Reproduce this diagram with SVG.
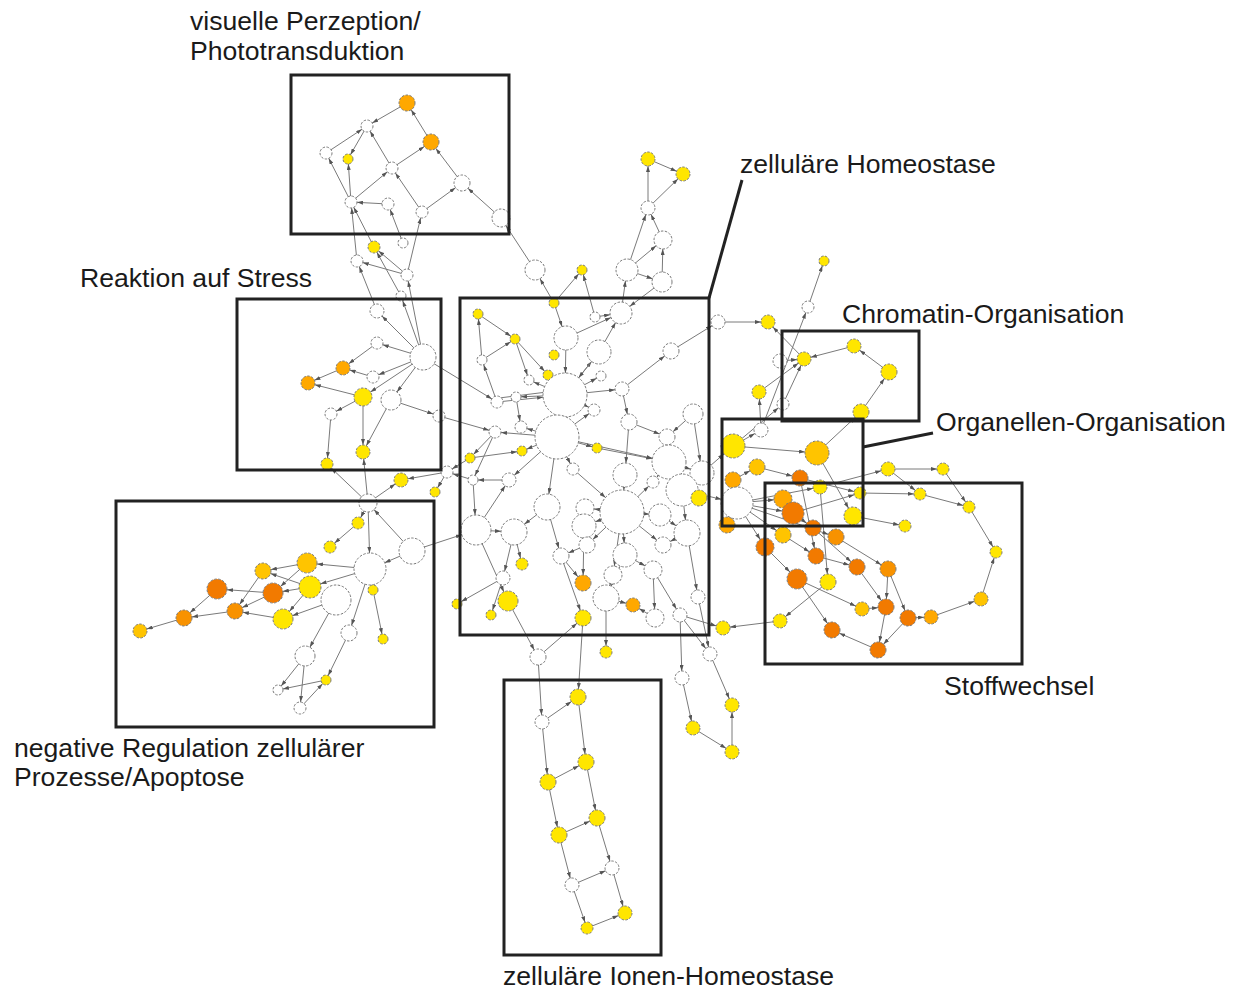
<svg xmlns="http://www.w3.org/2000/svg" width="1238" height="990" viewBox="0 0 1238 990">
<defs>
<style>
.e line{stroke:#7a7a7a;stroke-width:1;fill:none}
circle{stroke:#7a7a7a;stroke-width:1;stroke-dasharray:2.5 1.5}
.w{fill:#fff}.y{fill:#FFE600}.lo{fill:#FFC400}.o{fill:#FFA800}.o2{fill:#F89200}.do{fill:#F27A00}
.box{fill:none;stroke:#222;stroke-width:3}
.lab{font-family:"Liberation Sans",Arial,sans-serif;font-size:26.6px;fill:#1a1a1a}
marker path{fill:#555}
</style>
<marker id="a5" markerUnits="userSpaceOnUse" markerWidth="6" markerHeight="4" refX="11" refY="2" orient="auto"><path d="M0,0L6,2L0,4z"/></marker>
<marker id="a6" markerUnits="userSpaceOnUse" markerWidth="6" markerHeight="4" refX="12" refY="2" orient="auto"><path d="M0,0L6,2L0,4z"/></marker>
<marker id="a7" markerUnits="userSpaceOnUse" markerWidth="6" markerHeight="4" refX="13" refY="2" orient="auto"><path d="M0,0L6,2L0,4z"/></marker>
<marker id="a8" markerUnits="userSpaceOnUse" markerWidth="6" markerHeight="4" refX="14" refY="2" orient="auto"><path d="M0,0L6,2L0,4z"/></marker>
<marker id="a9" markerUnits="userSpaceOnUse" markerWidth="6" markerHeight="4" refX="15" refY="2" orient="auto"><path d="M0,0L6,2L0,4z"/></marker>
<marker id="a10" markerUnits="userSpaceOnUse" markerWidth="6" markerHeight="4" refX="16" refY="2" orient="auto"><path d="M0,0L6,2L0,4z"/></marker>
<marker id="a11" markerUnits="userSpaceOnUse" markerWidth="6" markerHeight="4" refX="17" refY="2" orient="auto"><path d="M0,0L6,2L0,4z"/></marker>
<marker id="a12" markerUnits="userSpaceOnUse" markerWidth="6" markerHeight="4" refX="18" refY="2" orient="auto"><path d="M0,0L6,2L0,4z"/></marker>
<marker id="a13" markerUnits="userSpaceOnUse" markerWidth="6" markerHeight="4" refX="19" refY="2" orient="auto"><path d="M0,0L6,2L0,4z"/></marker>
<marker id="a15" markerUnits="userSpaceOnUse" markerWidth="6" markerHeight="4" refX="21" refY="2" orient="auto"><path d="M0,0L6,2L0,4z"/></marker>
<marker id="a16" markerUnits="userSpaceOnUse" markerWidth="6" markerHeight="4" refX="22" refY="2" orient="auto"><path d="M0,0L6,2L0,4z"/></marker>
<marker id="a17" markerUnits="userSpaceOnUse" markerWidth="6" markerHeight="4" refX="23" refY="2" orient="auto"><path d="M0,0L6,2L0,4z"/></marker>
<marker id="a22" markerUnits="userSpaceOnUse" markerWidth="6" markerHeight="4" refX="28" refY="2" orient="auto"><path d="M0,0L6,2L0,4z"/></marker>
</defs>
<rect width="1238" height="990" fill="#fff"/>
<g id="connectors" class="e">
<line x1="407" y1="103" x2="367" y2="126" marker-end="url(#a6)"/>
<line x1="431" y1="142" x2="407" y2="103" marker-end="url(#a8)"/>
<line x1="326" y1="153" x2="367" y2="126" marker-end="url(#a6)"/>
<line x1="367" y1="126" x2="348" y2="159" marker-end="url(#a5)"/>
<line x1="392" y1="168" x2="367" y2="126" marker-end="url(#a6)"/>
<line x1="392" y1="168" x2="431" y2="142" marker-end="url(#a8)"/>
<line x1="351" y1="202" x2="326" y2="153" marker-end="url(#a6)"/>
<line x1="351" y1="202" x2="348" y2="159" marker-end="url(#a5)"/>
<line x1="351" y1="202" x2="392" y2="168" marker-end="url(#a6)"/>
<line x1="388" y1="204" x2="351" y2="202" marker-end="url(#a6)"/>
<line x1="422" y1="212" x2="392" y2="168" marker-end="url(#a6)"/>
<line x1="422" y1="212" x2="462" y2="183" marker-end="url(#a8)"/>
<line x1="462" y1="183" x2="431" y2="142" marker-end="url(#a8)"/>
<line x1="501" y1="218" x2="462" y2="183" marker-end="url(#a8)"/>
<line x1="535" y1="270" x2="501" y2="218" marker-end="url(#a9)"/>
<line x1="374" y1="247" x2="351" y2="202" marker-end="url(#a6)"/>
<line x1="403" y1="243" x2="388" y2="204" marker-end="url(#a6)"/>
<line x1="407" y1="275" x2="422" y2="212" marker-end="url(#a6)"/>
<line x1="407" y1="275" x2="374" y2="247" marker-end="url(#a6)"/>
<line x1="407" y1="275" x2="357" y2="261" marker-end="url(#a6)"/>
<line x1="357" y1="261" x2="351" y2="202" marker-end="url(#a6)"/>
<line x1="401" y1="296" x2="374" y2="247" marker-end="url(#a6)"/>
<line x1="377" y1="311" x2="357" y2="261" marker-end="url(#a6)"/>
<line x1="423" y1="357" x2="407" y2="275" marker-end="url(#a6)"/>
<line x1="423" y1="357" x2="401" y2="296" marker-end="url(#a5)"/>
<line x1="423" y1="357" x2="377" y2="311" marker-end="url(#a7)"/>
<line x1="423" y1="357" x2="377" y2="343" marker-end="url(#a6)"/>
<line x1="377" y1="343" x2="343" y2="368" marker-end="url(#a7)"/>
<line x1="343" y1="368" x2="308" y2="383" marker-end="url(#a7)"/>
<line x1="423" y1="357" x2="373" y2="377" marker-end="url(#a6)"/>
<line x1="373" y1="377" x2="343" y2="368" marker-end="url(#a7)"/>
<line x1="363" y1="397" x2="308" y2="383" marker-end="url(#a7)"/>
<line x1="423" y1="357" x2="363" y2="397" marker-end="url(#a9)"/>
<line x1="363" y1="397" x2="331" y2="414" marker-end="url(#a6)"/>
<line x1="391" y1="400" x2="363" y2="452" marker-end="url(#a7)"/>
<line x1="363" y1="397" x2="363" y2="452" marker-end="url(#a7)"/>
<line x1="331" y1="414" x2="327" y2="464" marker-end="url(#a6)"/>
<line x1="391" y1="400" x2="439" y2="416" marker-end="url(#a6)"/>
<line x1="423" y1="357" x2="391" y2="400" marker-end="url(#a10)"/>
<line x1="423" y1="357" x2="497" y2="402" marker-end="url(#a6)"/>
<line x1="368" y1="503" x2="327" y2="464" marker-end="url(#a6)"/>
<line x1="368" y1="503" x2="363" y2="452" marker-end="url(#a7)"/>
<line x1="368" y1="503" x2="401" y2="480" marker-end="url(#a7)"/>
<line x1="447" y1="472" x2="401" y2="480" marker-end="url(#a7)"/>
<line x1="447" y1="472" x2="435" y2="492" marker-end="url(#a5)"/>
<line x1="439" y1="416" x2="495" y2="432" marker-end="url(#a6)"/>
<line x1="470" y1="458" x2="447" y2="472" marker-end="url(#a6)"/>
<line x1="473" y1="480" x2="447" y2="472" marker-end="url(#a6)"/>
<line x1="412" y1="551" x2="368" y2="503" marker-end="url(#a9)"/>
<line x1="412" y1="551" x2="476" y2="530" marker-end="url(#a15)"/>
<line x1="368" y1="503" x2="358" y2="523" marker-end="url(#a6)"/>
<line x1="358" y1="523" x2="330" y2="547" marker-end="url(#a6)"/>
<line x1="368" y1="503" x2="370" y2="569" marker-end="url(#a16)"/>
<line x1="412" y1="551" x2="370" y2="569" marker-end="url(#a16)"/>
<line x1="370" y1="569" x2="307" y2="563" marker-end="url(#a10)"/>
<line x1="307" y1="563" x2="263" y2="571" marker-end="url(#a8)"/>
<line x1="370" y1="569" x2="310" y2="587" marker-end="url(#a11)"/>
<line x1="307" y1="563" x2="273" y2="593" marker-end="url(#a10)"/>
<line x1="310" y1="587" x2="273" y2="593" marker-end="url(#a10)"/>
<line x1="273" y1="593" x2="217" y2="589" marker-end="url(#a10)"/>
<line x1="263" y1="571" x2="235" y2="611" marker-end="url(#a8)"/>
<line x1="273" y1="593" x2="235" y2="611" marker-end="url(#a8)"/>
<line x1="283" y1="619" x2="235" y2="611" marker-end="url(#a8)"/>
<line x1="235" y1="611" x2="184" y2="618" marker-end="url(#a8)"/>
<line x1="217" y1="589" x2="184" y2="618" marker-end="url(#a8)"/>
<line x1="184" y1="618" x2="140" y2="631" marker-end="url(#a7)"/>
<line x1="336" y1="600" x2="283" y2="619" marker-end="url(#a10)"/>
<line x1="310" y1="587" x2="283" y2="619" marker-end="url(#a10)"/>
<line x1="310" y1="587" x2="263" y2="571" marker-end="url(#a8)"/>
<line x1="370" y1="569" x2="349" y2="633" marker-end="url(#a8)"/>
<line x1="349" y1="633" x2="326" y2="680" marker-end="url(#a5)"/>
<line x1="336" y1="600" x2="305" y2="656" marker-end="url(#a10)"/>
<line x1="305" y1="656" x2="278" y2="690" marker-end="url(#a5)"/>
<line x1="305" y1="656" x2="300" y2="708" marker-end="url(#a6)"/>
<line x1="326" y1="680" x2="278" y2="690" marker-end="url(#a5)"/>
<line x1="300" y1="708" x2="326" y2="680" marker-end="url(#a5)"/>
<line x1="373" y1="590" x2="383" y2="639" marker-end="url(#a5)"/>
<line x1="554" y1="303" x2="535" y2="270" marker-end="url(#a10)"/>
<line x1="554" y1="303" x2="582" y2="270" marker-end="url(#a5)"/>
<line x1="595" y1="317" x2="582" y2="270" marker-end="url(#a5)"/>
<line x1="554" y1="303" x2="566" y2="338" marker-end="url(#a12)"/>
<line x1="566" y1="338" x2="621" y2="313" marker-end="url(#a11)"/>
<line x1="599" y1="352" x2="621" y2="313" marker-end="url(#a11)"/>
<line x1="595" y1="317" x2="621" y2="313" marker-end="url(#a11)"/>
<line x1="621" y1="313" x2="627" y2="270" marker-end="url(#a11)"/>
<line x1="627" y1="270" x2="648" y2="208" marker-end="url(#a7)"/>
<line x1="663" y1="240" x2="648" y2="208" marker-end="url(#a7)"/>
<line x1="627" y1="270" x2="663" y2="240" marker-end="url(#a9)"/>
<line x1="627" y1="270" x2="662" y2="282" marker-end="url(#a10)"/>
<line x1="662" y1="282" x2="663" y2="240" marker-end="url(#a9)"/>
<line x1="662" y1="282" x2="621" y2="313" marker-end="url(#a11)"/>
<line x1="648" y1="208" x2="648" y2="159" marker-end="url(#a7)"/>
<line x1="648" y1="159" x2="683" y2="174" marker-end="url(#a7)"/>
<line x1="648" y1="208" x2="683" y2="174" marker-end="url(#a7)"/>
<line x1="478" y1="314" x2="515" y2="339" marker-end="url(#a5)"/>
<line x1="482" y1="360" x2="478" y2="314" marker-end="url(#a5)"/>
<line x1="482" y1="360" x2="515" y2="339" marker-end="url(#a5)"/>
<line x1="515" y1="339" x2="529" y2="380" marker-end="url(#a5)"/>
<line x1="515" y1="339" x2="548" y2="375" marker-end="url(#a5)"/>
<line x1="565" y1="395" x2="516" y2="397" marker-end="url(#a5)"/>
<line x1="565" y1="395" x2="529" y2="380" marker-end="url(#a5)"/>
<line x1="565" y1="395" x2="599" y2="352" marker-end="url(#a12)"/>
<line x1="565" y1="395" x2="601" y2="376" marker-end="url(#a5)"/>
<line x1="565" y1="395" x2="622" y2="389" marker-end="url(#a7)"/>
<line x1="565" y1="395" x2="594" y2="410" marker-end="url(#a6)"/>
<line x1="497" y1="402" x2="482" y2="360" marker-end="url(#a5)"/>
<line x1="497" y1="402" x2="565" y2="395" marker-end="url(#a22)"/>
<line x1="499" y1="398" x2="563" y2="390"/>
<line x1="622" y1="389" x2="671" y2="351" marker-end="url(#a8)"/>
<line x1="671" y1="351" x2="718" y2="322" marker-end="url(#a7)"/>
<line x1="622" y1="389" x2="629" y2="422" marker-end="url(#a8)"/>
<line x1="629" y1="422" x2="667" y2="437" marker-end="url(#a8)"/>
<line x1="693" y1="414" x2="667" y2="437" marker-end="url(#a8)"/>
<line x1="629" y1="422" x2="625" y2="475" marker-end="url(#a12)"/>
<line x1="597" y1="448" x2="669" y2="462" marker-end="url(#a17)"/>
<line x1="557" y1="437" x2="669" y2="462" marker-end="url(#a17)"/>
<line x1="557" y1="437" x2="521" y2="427" marker-end="url(#a6)"/>
<line x1="557" y1="437" x2="495" y2="432" marker-end="url(#a6)"/>
<line x1="557" y1="437" x2="522" y2="451" marker-end="url(#a5)"/>
<line x1="557" y1="437" x2="597" y2="448" marker-end="url(#a5)"/>
<line x1="557" y1="437" x2="573" y2="469" marker-end="url(#a6)"/>
<line x1="557" y1="437" x2="547" y2="507" marker-end="url(#a13)"/>
<line x1="557" y1="437" x2="509" y2="480" marker-end="url(#a7)"/>
<line x1="557" y1="437" x2="594" y2="410" marker-end="url(#a6)"/>
<line x1="516" y1="397" x2="521" y2="427" marker-end="url(#a6)"/>
<line x1="470" y1="458" x2="522" y2="451" marker-end="url(#a5)"/>
<line x1="495" y1="432" x2="470" y2="458" marker-end="url(#a5)"/>
<line x1="495" y1="432" x2="473" y2="480" marker-end="url(#a5)"/>
<line x1="509" y1="480" x2="473" y2="480" marker-end="url(#a5)"/>
<line x1="473" y1="480" x2="476" y2="530" marker-end="url(#a15)"/>
<line x1="669" y1="462" x2="653" y2="482" marker-end="url(#a6)"/>
<line x1="625" y1="475" x2="622" y2="512" marker-end="url(#a22)"/>
<line x1="573" y1="469" x2="622" y2="512" marker-end="url(#a22)"/>
<line x1="622" y1="512" x2="585" y2="508" marker-end="url(#a9)"/>
<line x1="622" y1="512" x2="660" y2="515" marker-end="url(#a11)"/>
<line x1="622" y1="512" x2="584" y2="526" marker-end="url(#a12)"/>
<line x1="622" y1="512" x2="625" y2="555" marker-end="url(#a12)"/>
<line x1="622" y1="512" x2="613" y2="575" marker-end="url(#a9)"/>
<line x1="622" y1="512" x2="653" y2="482" marker-end="url(#a6)"/>
<line x1="622" y1="512" x2="663" y2="545" marker-end="url(#a8)"/>
<line x1="622" y1="512" x2="587" y2="545" marker-end="url(#a8)"/>
<line x1="682" y1="490" x2="687" y2="533" marker-end="url(#a13)"/>
<line x1="660" y1="515" x2="687" y2="533" marker-end="url(#a13)"/>
<line x1="687" y1="533" x2="698" y2="597" marker-end="url(#a7)"/>
<line x1="687" y1="533" x2="663" y2="545" marker-end="url(#a8)"/>
<line x1="476" y1="530" x2="509" y2="480" marker-end="url(#a7)"/>
<line x1="476" y1="530" x2="514" y2="532" marker-end="url(#a13)"/>
<line x1="514" y1="532" x2="503" y2="578" marker-end="url(#a7)"/>
<line x1="514" y1="532" x2="522" y2="564" marker-end="url(#a6)"/>
<line x1="547" y1="507" x2="514" y2="532" marker-end="url(#a13)"/>
<line x1="547" y1="507" x2="561" y2="556" marker-end="url(#a8)"/>
<line x1="587" y1="545" x2="561" y2="556" marker-end="url(#a8)"/>
<line x1="584" y1="526" x2="583" y2="583" marker-end="url(#a8)"/>
<line x1="561" y1="556" x2="583" y2="583" marker-end="url(#a8)"/>
<line x1="625" y1="555" x2="606" y2="598" marker-end="url(#a13)"/>
<line x1="625" y1="555" x2="653" y2="570" marker-end="url(#a9)"/>
<line x1="653" y1="570" x2="655" y2="618" marker-end="url(#a9)"/>
<line x1="613" y1="575" x2="606" y2="598" marker-end="url(#a13)"/>
<line x1="606" y1="598" x2="606" y2="652" marker-end="url(#a6)"/>
<line x1="606" y1="598" x2="633" y2="605" marker-end="url(#a7)"/>
<line x1="655" y1="618" x2="633" y2="605" marker-end="url(#a7)"/>
<line x1="653" y1="570" x2="680" y2="615" marker-end="url(#a7)"/>
<line x1="503" y1="578" x2="457" y2="604" marker-end="url(#a5)"/>
<line x1="503" y1="578" x2="491" y2="615" marker-end="url(#a5)"/>
<line x1="476" y1="530" x2="508" y2="601" marker-end="url(#a10)"/>
<line x1="508" y1="601" x2="538" y2="657" marker-end="url(#a8)"/>
<line x1="538" y1="657" x2="583" y2="618" marker-end="url(#a8)"/>
<line x1="583" y1="618" x2="578" y2="697" marker-end="url(#a8)"/>
<line x1="538" y1="657" x2="542" y2="722" marker-end="url(#a7)"/>
<line x1="561" y1="556" x2="583" y2="618" marker-end="url(#a8)"/>
<line x1="680" y1="615" x2="682" y2="678" marker-end="url(#a7)"/>
<line x1="680" y1="615" x2="710" y2="654" marker-end="url(#a7)"/>
<line x1="680" y1="615" x2="723" y2="628" marker-end="url(#a7)"/>
<line x1="682" y1="678" x2="693" y2="728" marker-end="url(#a7)"/>
<line x1="693" y1="728" x2="732" y2="752" marker-end="url(#a7)"/>
<line x1="732" y1="752" x2="732" y2="705" marker-end="url(#a7)"/>
<line x1="710" y1="654" x2="732" y2="705" marker-end="url(#a7)"/>
<line x1="698" y1="597" x2="710" y2="654" marker-end="url(#a7)"/>
<line x1="682" y1="490" x2="737" y2="503" marker-end="url(#a16)"/>
<line x1="702" y1="473" x2="733" y2="446" marker-end="url(#a12)"/>
<line x1="669" y1="462" x2="702" y2="473" marker-end="url(#a12)"/>
<line x1="693" y1="414" x2="702" y2="473" marker-end="url(#a12)"/>
<line x1="566" y1="338" x2="565" y2="395" marker-end="url(#a22)"/>
<line x1="599" y1="352" x2="565" y2="395" marker-end="url(#a22)"/>
<line x1="808" y1="307" x2="824" y2="261" marker-end="url(#a5)"/>
<line x1="761" y1="430" x2="808" y2="307" marker-end="url(#a6)"/>
<line x1="718" y1="322" x2="768" y2="322" marker-end="url(#a7)"/>
<line x1="804" y1="359" x2="768" y2="322" marker-end="url(#a7)"/>
<line x1="854" y1="346" x2="804" y2="359" marker-end="url(#a7)"/>
<line x1="889" y1="372" x2="854" y2="346" marker-end="url(#a7)"/>
<line x1="861" y1="412" x2="889" y2="372" marker-end="url(#a8)"/>
<line x1="759" y1="392" x2="804" y2="359" marker-end="url(#a7)"/>
<line x1="783" y1="404" x2="804" y2="359" marker-end="url(#a7)"/>
<line x1="780" y1="361" x2="804" y2="359" marker-end="url(#a7)"/>
<line x1="761" y1="430" x2="759" y2="392" marker-end="url(#a7)"/>
<line x1="733" y1="446" x2="783" y2="404" marker-end="url(#a6)"/>
<line x1="733" y1="446" x2="761" y2="430" marker-end="url(#a7)"/>
<line x1="733" y1="446" x2="817" y2="453" marker-end="url(#a12)"/>
<line x1="817" y1="453" x2="861" y2="412" marker-end="url(#a8)"/>
<line x1="817" y1="453" x2="853" y2="516" marker-end="url(#a9)"/>
<line x1="757" y1="467" x2="800" y2="478" marker-end="url(#a8)"/>
<line x1="820" y1="487" x2="888" y2="469" marker-end="url(#a7)"/>
<line x1="888" y1="469" x2="943" y2="469" marker-end="url(#a6)"/>
<line x1="888" y1="469" x2="920" y2="494" marker-end="url(#a6)"/>
<line x1="860" y1="493" x2="920" y2="494" marker-end="url(#a6)"/>
<line x1="800" y1="478" x2="860" y2="493" marker-end="url(#a6)"/>
<line x1="920" y1="494" x2="969" y2="507" marker-end="url(#a6)"/>
<line x1="943" y1="469" x2="969" y2="507" marker-end="url(#a6)"/>
<line x1="969" y1="507" x2="996" y2="552" marker-end="url(#a6)"/>
<line x1="981" y1="599" x2="996" y2="552" marker-end="url(#a6)"/>
<line x1="931" y1="617" x2="981" y2="599" marker-end="url(#a7)"/>
<line x1="908" y1="618" x2="931" y2="617" marker-end="url(#a7)"/>
<line x1="853" y1="516" x2="905" y2="526" marker-end="url(#a6)"/>
<line x1="793" y1="513" x2="813" y2="528" marker-end="url(#a8)"/>
<line x1="813" y1="528" x2="857" y2="567" marker-end="url(#a8)"/>
<line x1="836" y1="537" x2="888" y2="569" marker-end="url(#a8)"/>
<line x1="857" y1="567" x2="886" y2="607" marker-end="url(#a8)"/>
<line x1="888" y1="569" x2="886" y2="607" marker-end="url(#a8)"/>
<line x1="888" y1="569" x2="908" y2="618" marker-end="url(#a8)"/>
<line x1="886" y1="607" x2="878" y2="650" marker-end="url(#a8)"/>
<line x1="908" y1="618" x2="878" y2="650" marker-end="url(#a8)"/>
<line x1="878" y1="650" x2="832" y2="630" marker-end="url(#a8)"/>
<line x1="797" y1="579" x2="832" y2="630" marker-end="url(#a8)"/>
<line x1="797" y1="579" x2="862" y2="609" marker-end="url(#a7)"/>
<line x1="862" y1="609" x2="886" y2="607" marker-end="url(#a8)"/>
<line x1="828" y1="582" x2="780" y2="621" marker-end="url(#a7)"/>
<line x1="820" y1="487" x2="828" y2="582" marker-end="url(#a8)"/>
<line x1="765" y1="547" x2="797" y2="579" marker-end="url(#a10)"/>
<line x1="783" y1="535" x2="816" y2="556" marker-end="url(#a8)"/>
<line x1="816" y1="556" x2="857" y2="567" marker-end="url(#a8)"/>
<line x1="800" y1="478" x2="816" y2="556" marker-end="url(#a8)"/>
<line x1="780" y1="621" x2="723" y2="628" marker-end="url(#a7)"/>
<line x1="737" y1="503" x2="783" y2="499" marker-end="url(#a9)"/>
<line x1="737" y1="503" x2="793" y2="513" marker-end="url(#a11)"/>
<line x1="737" y1="503" x2="783" y2="535" marker-end="url(#a8)"/>
<line x1="737" y1="503" x2="765" y2="547" marker-end="url(#a9)"/>
<line x1="737" y1="503" x2="820" y2="487" marker-end="url(#a7)"/>
<line x1="737" y1="503" x2="836" y2="537" marker-end="url(#a8)"/>
<line x1="733" y1="480" x2="757" y2="467" marker-end="url(#a8)"/>
<line x1="793" y1="513" x2="860" y2="493" marker-end="url(#a6)"/>
<line x1="542" y1="722" x2="578" y2="697" marker-end="url(#a8)"/>
<line x1="578" y1="697" x2="586" y2="762" marker-end="url(#a8)"/>
<line x1="542" y1="722" x2="548" y2="782" marker-end="url(#a8)"/>
<line x1="548" y1="782" x2="586" y2="762" marker-end="url(#a8)"/>
<line x1="586" y1="762" x2="597" y2="818" marker-end="url(#a8)"/>
<line x1="548" y1="782" x2="559" y2="835" marker-end="url(#a8)"/>
<line x1="559" y1="835" x2="597" y2="818" marker-end="url(#a8)"/>
<line x1="597" y1="818" x2="612" y2="868" marker-end="url(#a7)"/>
<line x1="559" y1="835" x2="572" y2="885" marker-end="url(#a7)"/>
<line x1="572" y1="885" x2="612" y2="868" marker-end="url(#a7)"/>
<line x1="612" y1="868" x2="625" y2="913" marker-end="url(#a7)"/>
<line x1="572" y1="885" x2="587" y2="928" marker-end="url(#a6)"/>
<line x1="587" y1="928" x2="625" y2="913" marker-end="url(#a7)"/>
</g>
<g id="v1"><circle class="o" cx="407" cy="103" r="8"/></g>
<g id="v2"><circle class="w" cx="367" cy="126" r="6"/></g>
<g id="v3"><circle class="o" cx="431" cy="142" r="8"/></g>
<g id="v4"><circle class="w" cx="326" cy="153" r="6"/></g>
<g id="v5"><circle class="y" cx="348" cy="159" r="5"/></g>
<g id="v6"><circle class="w" cx="392" cy="168" r="6"/></g>
<g id="v7"><circle class="w" cx="462" cy="183" r="8"/></g>
<g id="v8"><circle class="w" cx="351" cy="202" r="6"/></g>
<g id="v9"><circle class="w" cx="388" cy="204" r="6"/></g>
<g id="v10"><circle class="w" cx="422" cy="212" r="6"/></g>
<g id="v11"><circle class="w" cx="501" cy="218" r="9"/></g>
<g id="v12"><circle class="y" cx="374" cy="247" r="6"/></g>
<g id="v13"><circle class="w" cx="403" cy="243" r="5"/></g>
<g id="v14"><circle class="w" cx="357" cy="261" r="6"/></g>
<g id="v15"><circle class="w" cx="407" cy="275" r="6"/></g>
<g id="v16"><circle class="w" cx="401" cy="296" r="5"/></g>
<g id="s1"><circle class="w" cx="377" cy="311" r="7"/></g>
<g id="s2"><circle class="w" cx="377" cy="343" r="6"/></g>
<g id="s3"><circle class="w" cx="423" cy="357" r="13"/></g>
<g id="s4"><circle class="o" cx="343" cy="368" r="7"/></g>
<g id="s5"><circle class="o" cx="308" cy="383" r="7"/></g>
<g id="s6"><circle class="w" cx="373" cy="377" r="6"/></g>
<g id="s7"><circle class="y" cx="363" cy="397" r="9"/></g>
<g id="s8"><circle class="w" cx="391" cy="400" r="10"/></g>
<g id="s9"><circle class="w" cx="331" cy="414" r="6"/></g>
<g id="s10"><circle class="w" cx="439" cy="416" r="6"/></g>
<g id="s11"><circle class="y" cx="363" cy="452" r="7"/></g>
<g id="s12"><circle class="y" cx="327" cy="464" r="6"/></g>
<g id="s13"><circle class="w" cx="447" cy="472" r="6"/></g>
<g id="s14"><circle class="y" cx="401" cy="480" r="7"/></g>
<g id="s15"><circle class="y" cx="435" cy="492" r="5"/></g>
<g id="n1"><circle class="w" cx="368" cy="503" r="9"/></g>
<g id="n2"><circle class="y" cx="358" cy="523" r="6"/></g>
<g id="n3"><circle class="y" cx="330" cy="547" r="6"/></g>
<g id="n4"><circle class="w" cx="412" cy="551" r="13"/></g>
<g id="n5"><circle class="w" cx="370" cy="569" r="16"/></g>
<g id="n6"><circle class="lo" cx="307" cy="563" r="10"/></g>
<g id="n7"><circle class="lo" cx="263" cy="571" r="8"/></g>
<g id="n8"><circle class="y" cx="310" cy="587" r="11"/></g>
<g id="n9"><circle class="do" cx="217" cy="589" r="10"/></g>
<g id="n10"><circle class="do" cx="273" cy="593" r="10"/></g>
<g id="n11"><circle class="w" cx="336" cy="600" r="15"/></g>
<g id="n12"><circle class="y" cx="373" cy="590" r="5"/></g>
<g id="n13"><circle class="o2" cx="235" cy="611" r="8"/></g>
<g id="n14"><circle class="o2" cx="184" cy="618" r="8"/></g>
<g id="n15"><circle class="y" cx="283" cy="619" r="10"/></g>
<g id="n16"><circle class="lo" cx="140" cy="631" r="7"/></g>
<g id="n17"><circle class="w" cx="349" cy="633" r="8"/></g>
<g id="n18"><circle class="y" cx="383" cy="639" r="5"/></g>
<g id="n19"><circle class="w" cx="305" cy="656" r="10"/></g>
<g id="n20"><circle class="y" cx="326" cy="680" r="5"/></g>
<g id="n21"><circle class="w" cx="278" cy="690" r="5"/></g>
<g id="n22"><circle class="w" cx="300" cy="708" r="6"/></g>
<g id="c1"><circle class="w" cx="535" cy="270" r="10"/></g>
<g id="c2"><circle class="y" cx="582" cy="270" r="5"/></g>
<g id="c3"><circle class="y" cx="554" cy="303" r="5"/></g>
<g id="c4"><circle class="w" cx="595" cy="317" r="5"/></g>
<g id="c5"><circle class="w" cx="621" cy="313" r="11"/></g>
<g id="c6"><circle class="w" cx="627" cy="270" r="11"/></g>
<g id="c7"><circle class="w" cx="663" cy="240" r="9"/></g>
<g id="c8"><circle class="w" cx="662" cy="282" r="10"/></g>
<g id="c9"><circle class="w" cx="648" cy="208" r="7"/></g>
<g id="c10"><circle class="y" cx="648" cy="159" r="7"/></g>
<g id="c11"><circle class="y" cx="683" cy="174" r="7"/></g>
<g id="c12"><circle class="y" cx="478" cy="314" r="5"/></g>
<g id="c13"><circle class="y" cx="515" cy="339" r="5"/></g>
<g id="c14"><circle class="w" cx="566" cy="338" r="12"/></g>
<g id="c15"><circle class="w" cx="599" cy="352" r="12"/></g>
<g id="c16"><circle class="y" cx="554" cy="355" r="5"/></g>
<g id="c17"><circle class="w" cx="482" cy="360" r="5"/></g>
<g id="c18"><circle class="y" cx="548" cy="375" r="5"/></g>
<g id="c19"><circle class="w" cx="529" cy="380" r="5"/></g>
<g id="c20"><circle class="w" cx="601" cy="376" r="5"/></g>
<g id="c21"><circle class="w" cx="565" cy="395" r="22"/></g>
<g id="c22"><circle class="w" cx="516" cy="397" r="5"/></g>
<g id="c23"><circle class="w" cx="497" cy="402" r="6"/></g>
<g id="c24"><circle class="w" cx="622" cy="389" r="7"/></g>
<g id="c25"><circle class="w" cx="671" cy="351" r="8"/></g>
<g id="c26"><circle class="w" cx="718" cy="322" r="7"/></g>
<g id="c27"><circle class="w" cx="594" cy="410" r="6"/></g>
<g id="c28"><circle class="w" cx="693" cy="414" r="10"/></g>
<g id="c29"><circle class="w" cx="629" cy="422" r="8"/></g>
<g id="c30"><circle class="w" cx="557" cy="437" r="22"/></g>
<g id="c31"><circle class="w" cx="521" cy="427" r="6"/></g>
<g id="c32"><circle class="w" cx="495" cy="432" r="6"/></g>
<g id="c33"><circle class="y" cx="522" cy="451" r="5"/></g>
<g id="c34"><circle class="y" cx="470" cy="458" r="5"/></g>
<g id="c35"><circle class="y" cx="597" cy="448" r="5"/></g>
<g id="c36"><circle class="w" cx="667" cy="437" r="8"/></g>
<g id="c37"><circle class="w" cx="669" cy="462" r="17"/></g>
<g id="c38"><circle class="w" cx="625" cy="475" r="12"/></g>
<g id="c39"><circle class="w" cx="573" cy="469" r="6"/></g>
<g id="c40"><circle class="w" cx="509" cy="480" r="7"/></g>
<g id="c41"><circle class="w" cx="473" cy="480" r="5"/></g>
<g id="c42"><circle class="w" cx="702" cy="473" r="12"/></g>
<g id="c43"><circle class="w" cx="682" cy="490" r="16"/></g>
<g id="c44"><circle class="y" cx="699" cy="498" r="8"/></g>
<g id="c45"><circle class="w" cx="653" cy="482" r="6"/></g>
<g id="c46"><circle class="w" cx="547" cy="507" r="13"/></g>
<g id="c47"><circle class="w" cx="622" cy="512" r="22"/></g>
<g id="c48"><circle class="w" cx="585" cy="508" r="9"/></g>
<g id="c49"><circle class="w" cx="660" cy="515" r="11"/></g>
<g id="c50"><circle class="w" cx="476" cy="530" r="15"/></g>
<g id="c51"><circle class="w" cx="514" cy="532" r="13"/></g>
<g id="c52"><circle class="w" cx="584" cy="526" r="12"/></g>
<g id="c53"><circle class="w" cx="687" cy="533" r="13"/></g>
<g id="c54"><circle class="w" cx="587" cy="545" r="8"/></g>
<g id="c55"><circle class="w" cx="625" cy="555" r="12"/></g>
<g id="c56"><circle class="w" cx="663" cy="545" r="8"/></g>
<g id="c57"><circle class="w" cx="561" cy="556" r="8"/></g>
<g id="c58"><circle class="y" cx="522" cy="564" r="6"/></g>
<g id="c59"><circle class="w" cx="653" cy="570" r="9"/></g>
<g id="c60"><circle class="w" cx="613" cy="575" r="9"/></g>
<g id="c61"><circle class="w" cx="503" cy="578" r="7"/></g>
<g id="c62"><circle class="o" cx="583" cy="583" r="8"/></g>
<g id="c63"><circle class="w" cx="606" cy="598" r="13"/></g>
<g id="c64"><circle class="y" cx="508" cy="601" r="10"/></g>
<g id="c65"><circle class="w" cx="698" cy="597" r="7"/></g>
<g id="c66"><circle class="o" cx="633" cy="605" r="7"/></g>
<g id="c67"><circle class="y" cx="457" cy="604" r="5"/></g>
<g id="c68"><circle class="y" cx="491" cy="615" r="5"/></g>
<g id="c69"><circle class="w" cx="655" cy="618" r="9"/></g>
<g id="c70"><circle class="w" cx="680" cy="615" r="7"/></g>
<g id="c71"><circle class="y" cx="583" cy="618" r="8"/></g>
<g id="c72"><circle class="y" cx="723" cy="628" r="7"/></g>
<g id="c73"><circle class="w" cx="538" cy="657" r="8"/></g>
<g id="c74"><circle class="y" cx="606" cy="652" r="6"/></g>
<g id="c75"><circle class="w" cx="710" cy="654" r="7"/></g>
<g id="c76"><circle class="w" cx="682" cy="678" r="7"/></g>
<g id="c78"><circle class="y" cx="732" cy="705" r="7"/></g>
<g id="c79"><circle class="y" cx="693" cy="728" r="7"/></g>
<g id="c80"><circle class="y" cx="732" cy="752" r="7"/></g>
<g id="r1"><circle class="y" cx="824" cy="261" r="5"/></g>
<g id="r2"><circle class="w" cx="808" cy="307" r="6"/></g>
<g id="r3"><circle class="y" cx="768" cy="322" r="7"/></g>
<g id="r4"><circle class="y" cx="854" cy="346" r="7"/></g>
<g id="r5"><circle class="y" cx="804" cy="359" r="7"/></g>
<g id="r6"><circle class="w" cx="780" cy="361" r="7"/></g>
<g id="r7"><circle class="y" cx="889" cy="372" r="8"/></g>
<g id="r8"><circle class="y" cx="759" cy="392" r="7"/></g>
<g id="r9"><circle class="w" cx="783" cy="404" r="6"/></g>
<g id="r10"><circle class="y" cx="861" cy="412" r="8"/></g>
<g id="r11"><circle class="w" cx="761" cy="430" r="7"/></g>
<g id="r12"><circle class="y" cx="733" cy="446" r="12"/></g>
<g id="r13"><circle class="lo" cx="817" cy="453" r="12"/></g>
<g id="r14"><circle class="lo" cx="757" cy="467" r="8"/></g>
<g id="r15"><circle class="y" cx="888" cy="469" r="7"/></g>
<g id="r16"><circle class="o" cx="733" cy="480" r="8"/></g>
<g id="r17"><circle class="do" cx="800" cy="478" r="8"/></g>
<g id="r18"><circle class="y" cx="820" cy="487" r="7"/></g>
<g id="r19"><circle class="y" cx="943" cy="469" r="6"/></g>
<g id="r20"><circle class="y" cx="860" cy="493" r="6"/></g>
<g id="r21"><circle class="y" cx="920" cy="494" r="6"/></g>
<g id="r22"><circle class="w" cx="737" cy="503" r="16"/></g>
<g id="r23"><circle class="o" cx="783" cy="499" r="9"/></g>
<g id="r24"><circle class="do" cx="793" cy="513" r="11"/></g>
<g id="r25"><circle class="y" cx="853" cy="516" r="9"/></g>
<g id="r26"><circle class="y" cx="905" cy="526" r="6"/></g>
<g id="r27"><circle class="y" cx="969" cy="507" r="6"/></g>
<g id="r28"><circle class="do" cx="813" cy="528" r="8"/></g>
<g id="r29"><circle class="o2" cx="836" cy="537" r="8"/></g>
<g id="r30"><circle class="lo" cx="783" cy="535" r="8"/></g>
<g id="r31"><circle class="o" cx="727" cy="525" r="8"/></g>
<g id="r32"><circle class="do" cx="765" cy="547" r="9"/></g>
<g id="r33"><circle class="do" cx="816" cy="556" r="8"/></g>
<g id="r34"><circle class="y" cx="996" cy="552" r="6"/></g>
<g id="r35"><circle class="do" cx="857" cy="567" r="8"/></g>
<g id="r36"><circle class="o2" cx="888" cy="569" r="8"/></g>
<g id="r37"><circle class="do" cx="797" cy="579" r="10"/></g>
<g id="r38"><circle class="y" cx="828" cy="582" r="8"/></g>
<g id="r39"><circle class="lo" cx="862" cy="609" r="7"/></g>
<g id="r40"><circle class="do" cx="886" cy="607" r="8"/></g>
<g id="r41"><circle class="lo" cx="981" cy="599" r="7"/></g>
<g id="r42"><circle class="do" cx="908" cy="618" r="8"/></g>
<g id="r43"><circle class="o" cx="931" cy="617" r="7"/></g>
<g id="r44"><circle class="y" cx="780" cy="621" r="7"/></g>
<g id="r45"><circle class="do" cx="832" cy="630" r="8"/></g>
<g id="r46"><circle class="do" cx="878" cy="650" r="8"/></g>
<g id="i1"><circle class="w" cx="542" cy="722" r="7"/></g>
<g id="i2"><circle class="y" cx="578" cy="697" r="8"/></g>
<g id="i3"><circle class="y" cx="586" cy="762" r="8"/></g>
<g id="i4"><circle class="y" cx="548" cy="782" r="8"/></g>
<g id="i5"><circle class="y" cx="597" cy="818" r="8"/></g>
<g id="i6"><circle class="y" cx="559" cy="835" r="8"/></g>
<g id="i7"><circle class="w" cx="612" cy="868" r="7"/></g>
<g id="i8"><circle class="w" cx="572" cy="885" r="7"/></g>
<g id="i9"><circle class="y" cx="625" cy="913" r="7"/></g>
<g id="i10"><circle class="y" cx="587" cy="928" r="6"/></g>
<g id="box-visual"><rect class="box" x="291" y="75" width="218" height="159"/><text class="lab" x="190" y="30">visuelle Perzeption/</text><text class="lab" x="190" y="60">Phototransduktion</text></g>
<g id="box-stress"><rect class="box" x="237" y="299" width="204" height="171"/><text class="lab" x="80" y="287">Reaktion auf Stress</text></g>
<g id="box-negative"><rect class="box" x="116" y="501" width="318" height="226"/><text class="lab" x="14" y="757">negative Regulation zellulärer</text><text class="lab" x="14" y="786">Prozesse/Apoptose</text></g>
<g id="box-homeostase"><rect class="box" x="460" y="298" width="249" height="337"/><line class="box" x1="709" y1="298" x2="742" y2="180"/><text class="lab" x="740" y="173">zelluläre Homeostase</text></g>
<g id="box-chromatin"><rect class="box" x="782" y="331" width="137" height="90"/><text class="lab" x="842" y="323">Chromatin-Organisation</text></g>
<g id="box-organellen"><rect class="box" x="722" y="419" width="141" height="107"/><line class="box" x1="863" y1="447" x2="933" y2="433"/><text class="lab" x="936" y="431">Organellen-Organisation</text></g>
<g id="box-stoffwechsel"><rect class="box" x="765" y="483" width="257" height="181"/><text class="lab" x="944" y="695">Stoffwechsel</text></g>
<g id="box-ionen"><rect class="box" x="504" y="680" width="157" height="275"/><text class="lab" x="503" y="985">zelluläre Ionen-Homeostase</text></g>
</svg>
